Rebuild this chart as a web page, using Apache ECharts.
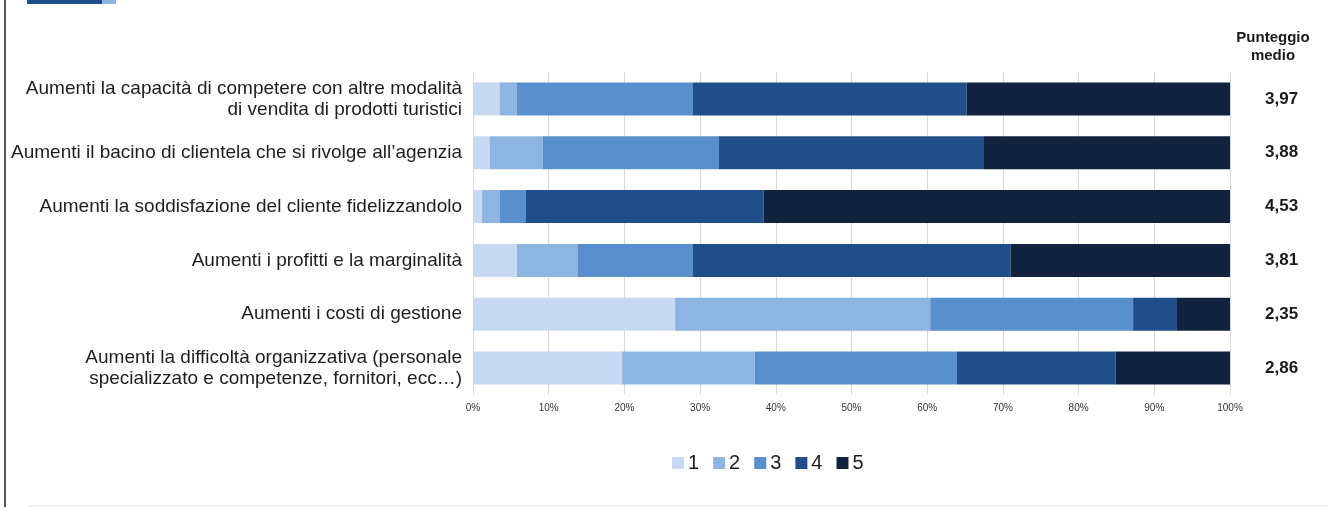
<!DOCTYPE html>
<html>
<head>
<meta charset="utf-8">
<script src="https://cdn.jsdelivr.net/npm/echarts@6/dist/echarts.min.js"></script>
<style>
html,body{margin:0;padding:0;background:#fff;}
#c{width:1327px;height:511px;}
</style>
</head>
<body>
<div id="c"></div>
<script>
const categories = [
  "Aumenti la capacità di competere con altre modalità\ndi vendita di prodotti turistici",
  "Aumenti il bacino di clientela che si rivolge all’agenzia",
  "Aumenti la soddisfazione del cliente fidelizzandolo",
  "Aumenti i profitti e la marginalità",
  "Aumenti i costi di gestione",
  "Aumenti la difficoltà organizzativa (personale\nspecializzato e competenze, fornitori, ecc…)"
];
const seriesNames = ["1", "2", "3", "4", "5"];
const score1 = [3.5, 2.2, 1.2, 5.8, 26.7, 19.7];
const score2 = [2.3, 7.0, 2.3, 8.0, 33.7, 17.5];
const score3 = [23.2, 23.3, 3.5, 15.2, 26.8, 26.7];
const score4 = [36.2, 35.0, 31.4, 42.0, 5.8, 21.0];
const score5 = [34.8, 32.5, 61.6, 29.0, 7.0, 15.1];
const meanScores = ["3,97", "3,88", "4,53", "3,81", "2,35", "2,86"];
const xTicks = [0, 10, 20, 30, 40, 50, 60, 70, 80, 90, 100];
const colors = ["#c6d9f0", "#8eb4e1", "#5a8fcd", "#1f4e8a", "#11233f"];

const allSeries = [score1, score2, score3, score4, score5];
const chart = echarts.init(document.getElementById('c'), null, {renderer: 'canvas'});
chart.setOption({
  animation: false,
  backgroundColor: '#ffffff',
  color: colors,
  textStyle: {fontFamily: '"Liberation Sans", Arial, sans-serif'},
  grid: {left: 473, right: 97, top: 72, bottom: 116, containLabel: false},
  title: {
    text: 'Punteggio\nmedio',
    left: 1268, top: 24,
    textAlign: 'center',
    textStyle: {fontSize: 15, fontWeight: 'bold', color: '#1a1a1a', lineHeight: 18, fontFamily: '"Liberation Sans", Arial, sans-serif'}
  },
  legend: {
    data: seriesNames,
    bottom: 33, left: 667,
    itemWidth: 12, itemHeight: 12, itemGap: 14,
    icon: 'rect',
    textStyle: {fontSize: 20, color: '#1a1a1a', padding: [0, 0, 0, -1]}
  },
  xAxis: {
    type: 'value', min: 0, max: 100, interval: 10,
    axisLabel: {formatter: v => xTicks.includes(v) ? v + '%' : '', fontSize: 10, color: '#333', margin: 8},
    axisLine: {show: false},
    axisTick: {show: false},
    splitLine: {show: true, lineStyle: {color: '#d9d9d9', width: 1}}
  },
  yAxis: [
    {
      type: 'category', data: categories, inverse: true,
      axisLine: {show: true, lineStyle: {color: '#d9d9d9'}},
      axisTick: {show: false},
      axisLabel: {fontSize: 19, color: '#1e1e1e', lineHeight: 21, margin: 11, align: 'right'}
    },
    {
      type: 'category', data: meanScores, inverse: true, position: 'right',
      axisLine: {show: false}, axisTick: {show: false},
      axisLabel: {fontSize: 17, fontWeight: 'bold', color: '#1a1a1a', margin: 35, align: 'left'}
    }
  ],
  graphic: [
    {type: 'rect', shape: {x: 27, y: 0, width: 75, height: 4}, style: {fill: '#1f4e8a'}},
    {type: 'rect', shape: {x: 102, y: 0, width: 14, height: 4}, style: {fill: '#8eb4e1'}},
    {type: 'line', shape: {x1: 5, y1: 0, x2: 5, y2: 507}, style: {stroke: '#222', lineWidth: 1.5}},
    {type: 'line', shape: {x1: 28, y1: 506, x2: 1327, y2: 506}, style: {stroke: '#f2f2f2', lineWidth: 2}}
  ],
  series: seriesNames.map((n, i) => ({
    name: n, type: 'bar', stack: 'total', barWidth: 33,
    data: allSeries[i],
    itemStyle: {color: colors[i]}
  }))
});
</script>
</body>
</html>
